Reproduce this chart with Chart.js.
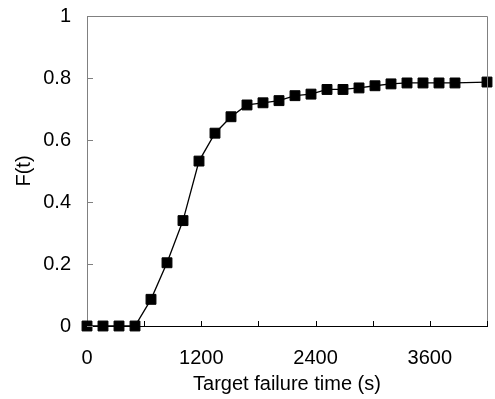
<!DOCTYPE html>
<html>
<head>
<meta charset="utf-8">
<script src="https://cdn.jsdelivr.net/npm/chart.js@4/dist/chart.umd.min.js"></script>
<style>
    body { margin: 0; background: #fff; }
    #wrap { width: 495px; height: 399px; }
</style>
</head>
<body>
<div id="wrap"><canvas id="chart" width="495" height="399"></canvas></div>
<script>
// Target failure time (s) and F(t)
const failureTimes = [0, 168, 336, 504, 672, 840, 1008, 1176, 1344, 1512, 1680, 1848,
    2016, 2184, 2352, 2520, 2688, 2856, 3024, 3192, 3360, 3528, 3696, 3864, 4200];
const fValues = [0, 0, 0, 0, 0.086, 0.204, 0.340, 0.532, 0.622, 0.675, 0.713, 0.720,
    0.727, 0.743, 0.748, 0.763, 0.763, 0.768, 0.775, 0.781, 0.784, 0.784, 0.784, 0.784, 0.787];
const xLabelTicks = [0, 1200, 2400, 3600];

const fontFamily = '"Liberation Sans", Arial, Helvetica, sans-serif';

// ticks pointing into the plot, plus the grey frame on top and right
const innerTicks = {
    id: 'innerTicks',
    afterDraw(chart) {
        const ctx = chart.ctx;
        const area = chart.chartArea;
        const xs = chart.scales.x;
        const ys = chart.scales.y;
        ctx.save();
        ctx.lineWidth = 1;
        ctx.strokeStyle = '#808080';
        ctx.beginPath();
        ctx.moveTo(area.left, area.top + 0.5);
        ctx.lineTo(area.right + 0.5, area.top + 0.5);
        ctx.lineTo(area.right + 0.5, area.bottom);
        ctx.stroke();
        ctx.strokeStyle = '#000';
        ctx.beginPath();
        xs.ticks.forEach(t => {
            const px = Math.round(xs.getPixelForValue(t.value)) + 0.5;
            ctx.moveTo(px, area.bottom);
            ctx.lineTo(px, area.bottom - 5);
        });
        ctx.stroke();
        ctx.strokeStyle = '#808080';
        ctx.beginPath();
        ys.ticks.forEach(t => {
            const py = Math.round(ys.getPixelForValue(t.value)) + 0.5;
            ctx.moveTo(area.left, py);
            ctx.lineTo(area.left + 6, py);
        });
        ctx.stroke();
        ctx.restore();
    }
};

new Chart(document.getElementById('chart'), {
    type: 'line',
    data: {
        datasets: [{
            data: failureTimes.map((t, i) => ({ x: t, y: fValues[i] })),
            borderColor: '#000',
            borderWidth: 1.3,
            backgroundColor: '#000',
            pointStyle: 'rect',
            pointRadius: 7,
            pointBorderWidth: 1,
            pointBorderColor: '#000',
            pointBackgroundColor: '#000',
            tension: 0,
            clip: false
        }]
    },
    options: {
        responsive: false,
        animation: false,
        layout: { padding: { top: 16, right: 5, left: 0, bottom: 0 } },
        plugins: { legend: { display: false }, tooltip: { enabled: false } },
        scales: {
            x: {
                type: 'linear',
                min: 0,
                max: 4200,
                afterFit(scale) {
                    scale.height = 73;
                    scale.paddingLeft = 0;
                    scale.paddingRight = 0;
                },
                grid: { drawOnChartArea: false, drawTicks: false },
                border: { display: true, color: '#000', width: 1 },
                ticks: {
                    stepSize: 600,
                    padding: 20,
                    maxRotation: 0,
                    autoSkip: false,
                    color: '#000',
                    font: { family: fontFamily, size: 20 },
                    callback: v => xLabelTicks.includes(v) ? String(v) : ''
                },
                title: {
                    display: true,
                    text: 'Target failure time (s)',
                    color: '#000',
                    font: { family: fontFamily, size: 20 },
                    padding: { top: 0, bottom: 3 }
                }
            },
            y: {
                min: 0,
                max: 1,
                afterFit(scale) {
                    scale.width = 87;
                    scale.paddingTop = 0;
                    scale.paddingBottom = 0;
                },
                grid: { drawOnChartArea: false, drawTicks: false },
                border: { display: true, color: '#808080', width: 1 },
                ticks: {
                    stepSize: 0.2,
                    padding: 16,
                    color: '#000',
                    font: { family: fontFamily, size: 20 },
                    callback: v => String(Math.round(v * 10) / 10)
                },
                title: {
                    display: true,
                    text: 'F(t)',
                    color: '#000',
                    font: { family: fontFamily, size: 20 },
                    padding: { top: 12, bottom: 0 }
                }
            }
        }
    },
    plugins: [innerTicks]
});
</script>
</body>
</html>
